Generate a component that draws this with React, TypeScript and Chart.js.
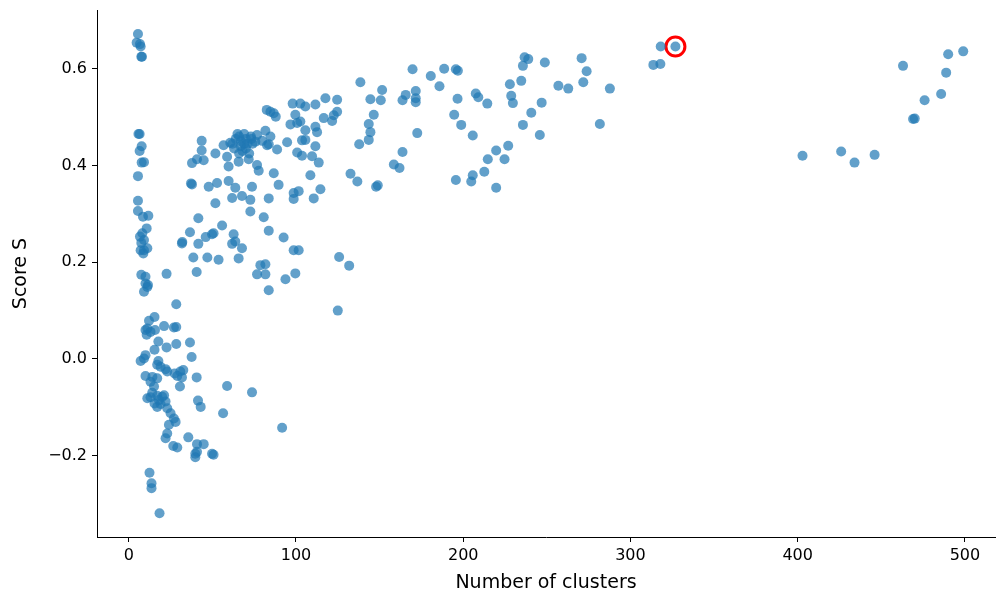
import React, { useEffect, useRef } from "react";
import { Chart, registerables } from "chart.js";

Chart.register(...registerables);

// Scatter data: number of clusters vs score S
const numClusters: number[] = [
  5.5, 4.7, 6.7, 7.1, 7.5, 7.9, 6.5, 5.8, 7.7, 6.5, 7.7, 9.1, 5.5, 5.5, 5.5, 8.5, 11.7, 10.7,
  6.7, 8.1, 9.1, 7.1, 9.1, 8.7, 11.1, 7.5, 7.5, 10, 10, 11.1, 9.1, 11.5, 15.4, 12.1, 10, 11.1,
  13, 10.7, 15.7, 17.7, 15.4, 10, 9.1, 7.1, 17.7, 17, 19, 10, 14.1, 13, 17, 15.1, 11.1, 13, 17,
  20, 21.1, 15.4, 17, 19, 22, 23, 18, 14, 12.4, 13.6, 13.6, 18.4,
  22.6, 21.1, 27, 28.4, 28.4, 22.6, 28.4, 36.6, 37.6, 22, 23, 32.6, 30.8, 31.8, 27.4, 29, 30.6,
  40.6, 41.4, 43, 25, 27, 28, 24, 23, 22, 26.6, 29, 35.6, 40.8, 44.8, 39.8, 40.8, 39.8, 49.8,
  50.7, 56.4, 58.8, 73.7, 91.7,
  40.6, 31.8, 32, 36.6, 41.6, 41.6, 46, 49.8, 50.7, 38.6, 47, 53.7, 51.8, 55.8, 62.7, 61.8,
  63.7, 67.7, 65.7, 72.7, 80.7, 83.7, 92.6, 78.7, 81.7, 76.7, 81.7, 99.6, 83.7, 93.7, 98.6,
  101.6, 125.8, 131.8, 125,
  37.2, 37.8, 47.8, 52.8, 59.7, 63.7, 73.7, 89.6, 61.8, 67.7, 72.7, 83.7, 86.7,
  43.6, 43.6, 44.8, 37.8, 40.8, 51.8, 56.7, 60.7, 58.8, 59.7, 65.7, 71.7, 76.7, 77.7,
  64, 65, 66, 67, 67, 68, 69, 69, 70, 70, 71, 72, 66, 63, 62, 74, 73,
  76.7, 79.7, 75.7, 73.3, 81.7, 84.7, 83.7, 82.7, 88.7, 94.7, 82.5, 84.7, 86.7, 87.9,
  98, 102.6, 105.6, 111.6, 117.6, 99.6, 96.7, 100.7, 102.6, 105.6, 111.6, 112.6, 116.6,
  103.6, 105.6, 111.6, 100.7, 103.6, 109.6, 113.6, 108.6, 114.6, 110.6, 98.6, 101.6, 98.6,
  124.6, 138.5, 151.5, 144.5, 150.7, 165.6, 171.6, 163.7, 171.6, 171.6, 169.7, 180.6, 188.6,
  195.6, 196.8, 185.8, 207.5, 209, 196.6, 214.4, 124.6, 122.6, 121.6, 146.5, 143.5, 144.5,
  143.5, 137.8, 172.5, 163.7, 194.6, 198.8, 205.7, 158.5, 161.9, 132.6, 136.7, 147.9, 148.9,
  195.6, 205.7, 204.8, 212.6,
  236.7, 238.9, 235.7, 248.8, 270.8, 273.8, 271.8, 227.9, 234.7, 256.9, 262.8, 287.7, 228.7,
  229.7, 246.9, 240.7, 235.7, 245.8, 281.7, 226.9, 219.7, 214.7, 224.7, 219.7,
  318.1, 326.9, 313.7, 317.9,
  402.9, 426, 434, 446, 463, 469, 470, 475.9, 485.8, 488.8, 490, 499,
];

const scoreS: number[] = [
  0.672, 0.654, 0.651, 0.646, 0.625, 0.625, 0.465, 0.465, 0.44, 0.43, 0.406, 0.407, 0.378,
  0.327, 0.306, 0.294, 0.296, 0.27, 0.253, 0.26, 0.246, 0.225, 0.225, 0.218, 0.229, 0.24,
  0.174, 0.17, 0.156, 0.149, 0.139, 0.153, 0.087, 0.079, 0.06, 0.063, 0.056, 0.05, 0.06,
  0.036, 0.019, 0.008, 0.001, -0.004, -0.004, -0.012, -0.016, -0.035, -0.037, -0.047, -0.04,
  -0.057, -0.081, -0.079, -0.076, -0.078, -0.075, -0.092, -0.099, -0.093, -0.088, -0.102,
  -0.085, -0.07, -0.235, -0.257, -0.267, -0.319,
  0.176, 0.068, 0.065, 0.066, 0.113, 0.024, 0.031, 0.034, 0.004, -0.021, -0.026, -0.023,
  -0.026, -0.038, -0.03, -0.035, -0.057, -0.038, -0.086, -0.099, -0.112, -0.123, -0.13,
  -0.136, -0.154, -0.164, -0.18, -0.183, -0.162, -0.176, -0.176, -0.196, -0.192, -0.203,
  -0.196, -0.198, -0.112, -0.056, -0.069, -0.142,
  0.18, 0.239, 0.242, 0.262, 0.238, 0.291, 0.252, 0.258, 0.26, 0.21, 0.21, 0.205, 0.322,
  0.276, 0.258, 0.238, 0.243, 0.229, 0.208, 0.305, 0.293, 0.265, 0.251, 0.194, 0.196, 0.175,
  0.175, 0.177, 0.142, 0.165, 0.225, 0.225, 0.211, 0.193, 0.1,
  0.363, 0.361, 0.356, 0.364, 0.368, 0.354, 0.356, 0.36, 0.333, 0.337, 0.329, 0.332, 0.384,
  0.451, 0.431, 0.411, 0.405, 0.413, 0.425, 0.442, 0.447, 0.418, 0.398, 0.408, 0.413, 0.401,
  0.389,
  0.455, 0.465, 0.46, 0.45, 0.44, 0.43, 0.445, 0.465, 0.455, 0.435, 0.445, 0.425, 0.425,
  0.435, 0.445, 0.445, 0.46,
  0.463, 0.451, 0.449, 0.455, 0.472, 0.46, 0.444, 0.442, 0.433, 0.448, 0.515, 0.511, 0.508,
  0.501, 0.528, 0.528, 0.522, 0.526, 0.539, 0.505, 0.485, 0.488, 0.491, 0.473, 0.48, 0.469,
  0.498, 0.452, 0.453, 0.44, 0.427, 0.42, 0.419, 0.406, 0.38, 0.351, 0.332, 0.343, 0.347,
  0.331,
  0.536, 0.572, 0.556, 0.537, 0.535, 0.546, 0.554, 0.535, 0.539, 0.531, 0.599, 0.585, 0.6,
  0.599, 0.596, 0.564, 0.549, 0.541, 0.538, 0.528, 0.511, 0.504, 0.492, 0.505, 0.486, 0.469,
  0.453, 0.444, 0.467, 0.428, 0.505, 0.484, 0.462, 0.402, 0.395, 0.383, 0.367, 0.356, 0.359,
  0.37, 0.38, 0.367, 0.387,
  0.624, 0.62, 0.606, 0.613, 0.622, 0.595, 0.572, 0.568, 0.575, 0.565, 0.559, 0.559, 0.544,
  0.529, 0.53, 0.509, 0.484, 0.463, 0.486, 0.441, 0.431, 0.413, 0.413, 0.354,
  0.646, 0.646, 0.608, 0.61,
  0.42, 0.429, 0.406, 0.422, 0.606, 0.496, 0.497, 0.535, 0.548, 0.592, 0.63, 0.636,
];

const highlightX = [326.9];
const highlightY = [0.646];

const xTicks = [0, 100, 200, 300, 400, 500];
const yTicks = [-0.2, 0.0, 0.2, 0.4, 0.6];

const FONT = "'DejaVu Sans', sans-serif";

export default function App() {
  const ref = useRef<HTMLCanvasElement | null>(null);

  useEffect(() => {
    document.body.style.margin = "0";
    const canvas = ref.current;
    if (!canvas) return;
    const points = numClusters.map((x, i) => ({ x, y: scoreS[i] }));
    const hl = highlightX.map((x, i) => ({ x, y: highlightY[i] }));

    const chart = new Chart(canvas, {
      type: "scatter",
      data: {
        datasets: [
          {
            data: points,
            backgroundColor: "rgba(31,119,180,0.7)",
            borderColor: "rgba(31,119,180,0.7)",
            borderWidth: 0,
            pointRadius: 5,
            pointHoverRadius: 5,
          },
          {
            data: hl,
            backgroundColor: "rgba(0,0,0,0)",
            borderColor: "#ff0000",
            borderWidth: 3,
            pointRadius: 9.5,
            pointHoverRadius: 9.5,
          },
        ],
      },
      options: {
        responsive: false,
        animation: false,
        events: [],
        layout: { autoPadding: false, padding: { top: 10, right: 1, left: 0, bottom: 0 } },
        plugins: {
          legend: { display: false },
          tooltip: { enabled: false },
        },
        scales: {
          x: {
            type: "linear",
            min: -19,
            max: 518,
            afterBuildTicks: (s: any) => {
              s.ticks = xTicks.map((v) => ({ value: v }));
            },
            afterFit: (s: any) => {
              s.height = 57;
              s.paddingLeft = 0;
              s.paddingRight = 0;
            },
            grid: {
              drawOnChartArea: false,
              drawTicks: true,
              tickLength: 5,
              tickColor: "#000",
              tickWidth: 1,
            },
            border: { display: true, color: "#000", width: 1 },
            ticks: {
              color: "#000",
              padding: 4,
              font: { family: FONT, size: 16 },
              callback: (v: any) => String(v),
            },
            title: {
              display: true,
              text: "Number of clusters",
              color: "#000",
              font: { family: FONT, size: 19 },
              padding: { top: 2, bottom: 0 },
            },
          },
          y: {
            type: "linear",
            min: -0.368,
            max: 0.7215,
            afterBuildTicks: (s: any) => {
              s.ticks = yTicks.map((v) => ({ value: v }));
            },
            afterFit: (s: any) => {
              s.width = 97;
              s.paddingTop = 0;
              s.paddingBottom = 0;
            },
            grid: {
              drawOnChartArea: false,
              drawTicks: true,
              tickLength: 5,
              tickColor: "#000",
              tickWidth: 1,
            },
            border: { display: true, color: "#000", width: 1 },
            ticks: {
              color: "#000",
              padding: 5,
              font: { family: FONT, size: 16 },
              callback: (v: any) => {
                const n = Number(v);
                const s = Math.abs(n).toFixed(1);
                return n < -1e-9 ? "\u2212" + s : s;
              },
            },
            title: {
              display: true,
              text: "Score S",
              color: "#000",
              font: { family: FONT, size: 19 },
              padding: { top: 10, bottom: 0 },
            },
          },
        },
      },
    } as any);

    return () => chart.destroy();
  }, []);

  return (
    <div style={{ width: 996, height: 594 }}>
      <canvas ref={ref} width={996} height={594} style={{ display: "block" }} />
    </div>
  );
}
